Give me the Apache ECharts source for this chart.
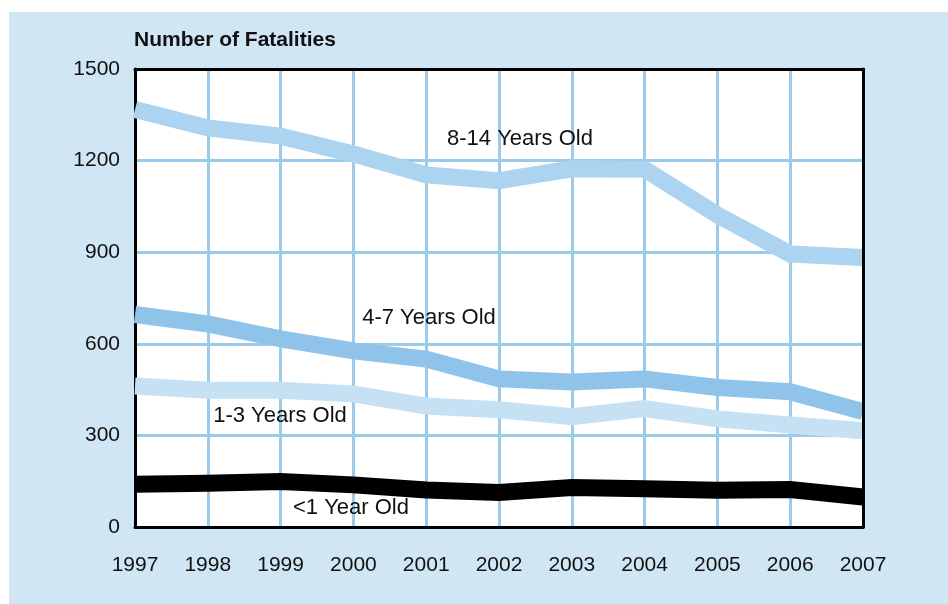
<!DOCTYPE html>
<html>
<head>
<meta charset="utf-8">
<script src="https://cdn.jsdelivr.net/npm/echarts@6/dist/echarts.min.js"></script>
<style>
  html, body { margin: 0; padding: 0; background: #fff; }
  #chart { width: 948px; height: 604px; }
</style>
</head>
<body>
<div id="chart"></div>
<script>
// data
var years = ["1997", "1998", "1999", "2000", "2001", "2002", "2003", "2004", "2005", "2006", "2007"];
var age8to14 = [1367, 1307, 1280, 1222, 1153, 1134, 1173, 1172, 1022, 894, 883];
var age4to7 = [696, 665, 616, 577, 550, 485, 475, 485, 457, 443, 378];
var age1to3 = [462, 448, 448, 436, 396, 384, 361, 388, 354, 334, 315];
var ageUnder1 = [140, 143, 149, 138, 121, 113, 129, 125, 120, 123, 98];
var yTicks = [0, 300, 600, 900, 1200, 1500];

var font = '"Liberation Sans", Arial, sans-serif';

var myChart = echarts.init(document.getElementById("chart"));

function lineSeries(name, data, color) {
  return {
    name: name,
    type: "line",
    data: data,
    symbol: "none",
    lineStyle: { color: color, width: 17, cap: "butt", join: "miter" },
    z: 3
  };
}

function label(text, x, y) {
  return {
    type: "text",
    x: x,
    y: y,
    z: 10,
    style: {
      text: text,
      fill: "#111",
      font: "22px " + font,
      align: "center",
      verticalAlign: "middle"
    }
  };
}

// black frame round the plot, drawn by the axis lines
var frameLine = { show: true, onZero: false, lineStyle: { color: "#000", width: 3 } };

myChart.setOption({
  animation: false,
  backgroundColor: "#fff",
  grid: {
    left: 135,
    right: 85,
    top: 69,
    bottom: 77,
    show: true,
    backgroundColor: "#fff",
    borderWidth: 0
  },
  xAxis: [
    {
      type: "category",
      data: years,
      boundaryGap: false,
      axisLine: frameLine,
      axisTick: { show: false },
      axisLabel: { color: "#111", fontFamily: font, fontSize: 21, margin: 28 },
      splitLine: { show: true, lineStyle: { color: "#9ccaeb", width: 3 } }
    },
    {
      type: "category",
      data: years,
      position: "top",
      boundaryGap: false,
      axisLine: frameLine,
      axisTick: { show: false },
      axisLabel: { show: false },
      splitLine: { show: false },
      z: 10
    }
  ],
  yAxis: [
    {
      type: "value",
      min: yTicks[0],
      max: yTicks[yTicks.length - 1],
      interval: 300,
      axisLine: frameLine,
      axisTick: { show: false },
      axisLabel: {
        color: "#111", fontFamily: font, fontSize: 21, margin: 15,
        formatter: function (v) { return String(v); }
      },
      splitLine: { show: true, lineStyle: { color: "#9ccaeb", width: 3 } }
    },
    {
      type: "value",
      position: "right",
      min: yTicks[0],
      max: yTicks[yTicks.length - 1],
      interval: 300,
      axisLine: frameLine,
      axisTick: { show: false },
      axisLabel: { show: false },
      splitLine: { show: false },
      z: 10
    }
  ],
  graphic: [
    {
      type: "rect",
      shape: { x: 9, y: 12, width: 939, height: 592 },
      style: { fill: "#d1e6f4" },
      z: -10,
      silent: true
    },
    {
      type: "text",
      x: 134,
      y: 40,
      z: 10,
      style: {
        text: "Number of Fatalities",
        fill: "#111",
        font: "bold 21px " + font,
        align: "left",
        verticalAlign: "middle"
      }
    },
    label("8-14 Years Old", 520, 139),
    label("4-7 Years Old", 429, 318),
    label("1-3 Years Old", 280, 416),
    label("<1 Year Old", 351, 508)
  ],
  series: [
    lineSeries("8-14 Years Old", age8to14, "#acd3ef"),
    lineSeries("4-7 Years Old", age4to7, "#8fc3ea"),
    lineSeries("1-3 Years Old", age1to3, "#c6e1f4"),
    lineSeries("<1 Year Old", ageUnder1, "#000")
  ]
});
</script>
</body>
</html>
